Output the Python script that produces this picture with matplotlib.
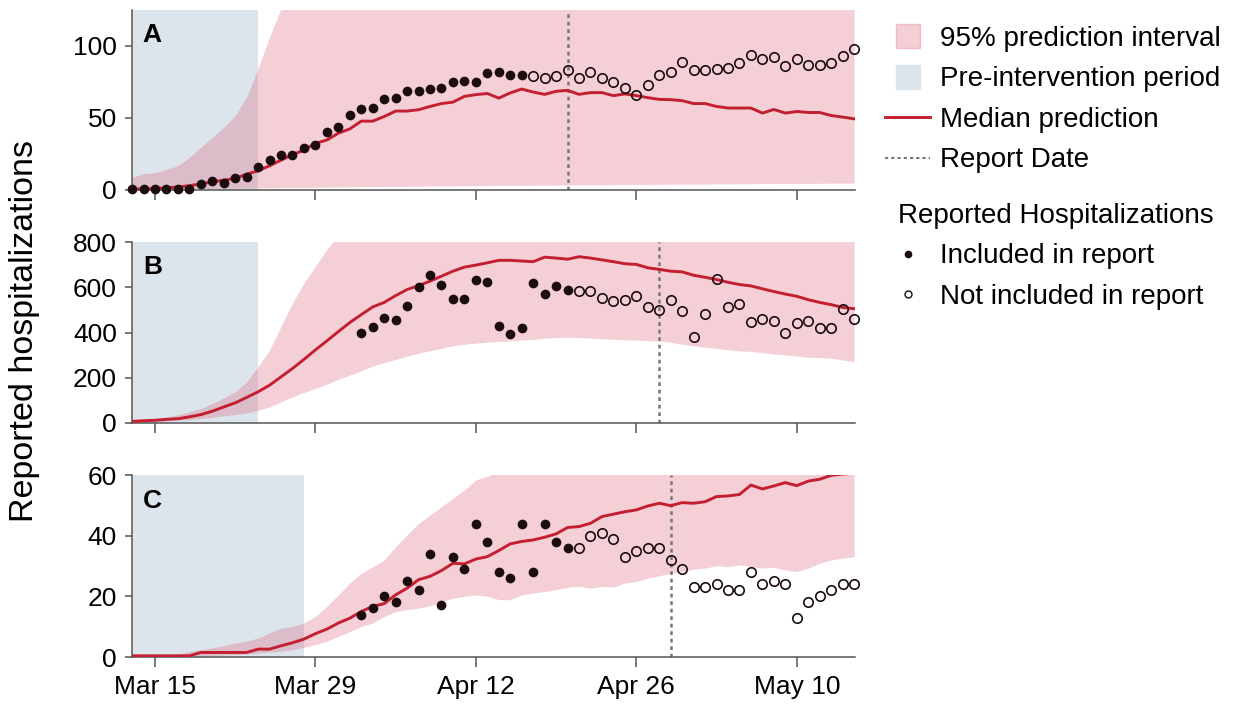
import numpy as np
import pandas as pd
import matplotlib as mpl
mpl.use('Agg')
import matplotlib.pyplot as plt
import matplotlib.dates as mdates
from matplotlib.lines import Line2D

plt.rcParams['font.family'] = ['Liberation Sans', 'DejaVu Sans']

# daily axis, Mar 13 - May 15 2020
days = pd.date_range('2020-03-13', '2020-05-15', freq='D')
incl_days = pd.date_range('2020-04-02', '2020-04-20', freq='D')
excl_days = pd.date_range('2020-04-21', '2020-05-15', freq='D')

# ---- panel A ----
a_incl_days = pd.date_range('2020-03-13', '2020-04-16', freq='D')
a_excl_days = pd.date_range('2020-04-17', '2020-05-15', freq='D')
a_incl = [1, 1, 1, 1, 1, 1, 4, 6, 5, 8, 9, 16, 21, 24, 24, 29, 31, 40, 44,
          52, 56, 57, 63, 64, 69, 69, 70, 71, 75, 76, 75, 81, 82, 80, 80]
a_excl = [79, 78, 79, 83, 78, 82, 78, 75, 71, 66, 73, 80, 82, 89, 83, 83, 84, 85,
          88, 94, 91, 92, 86, 91, 87, 87, 88, 93, 98]
a_median = [0.5, 0.8, 1, 1.5, 2, 3, 4.2, 5.6, 6.8, 8, 11, 13.3, 16.8, 20.7, 24.5, 27.7, 32.4, 34.7, 39.4,
            42.4, 47.8, 47.8, 51, 54.8, 54.8, 55.7, 58, 60, 61, 65, 66.2, 67, 63.8, 67.4, 70.1,
            68, 66.4, 68.5, 69.2, 66.4, 67.6, 67.6, 65.5, 66.7, 65.5, 64.1, 62.9, 62.7, 62,
            60, 60, 58, 56.9, 56.9, 56.9, 53.4, 55.9, 53.4, 54.5, 53.8, 53.8, 51.7, 50.6, 49.4]
a_lower = [0.3, 0.4, 0.5, 0.6, 0.7, 0.8, 0.9, 1.0, 1.1, 1.2, 1.3, 1.4, 1.5, 1.6, 1.7, 1.8, 1.9, 2.0, 2.1,
           2.2, 2.3, 2.4, 2.4, 2.5, 2.6, 2.6, 2.7, 2.8, 2.8, 2.9, 3.0, 3.0, 3.1, 3.1, 3.2,
           3.3, 3.3, 3.4, 3.5, 3.5, 3.6, 3.6, 3.7, 3.8, 3.8, 3.9, 3.9, 4.0, 4.0,
           4.1, 4.1, 4.2, 4.2, 4.3, 4.3, 4.4, 4.4, 4.5, 4.5, 4.6, 4.6, 4.7, 4.7, 4.8]
a_upper = [8.6, 11.4, 12, 14.5, 16.8, 22.6, 29.6, 36.6, 43.6, 51.7, 64.5, 84.4, 106.5, 126, 145, 165, 180, 195, 210,
           220, 228, 235, 240, 245, 250, 254, 258, 260, 262, 264, 265, 266, 267, 268, 268,
           268, 268, 268, 268, 267, 267, 266, 266, 265, 265, 264, 264, 263, 263,
           262, 262, 261, 261, 260, 260, 259, 259, 258, 258, 257, 257, 256, 256, 255]
a_pre_end = '2020-03-24'
a_report = '2020-04-20'

# ---- panel B ----
b_incl = [397, 425, 464, 455, 516, 600, 653, 610, 548, 548, 630, 624, 430, 393, 421, 621, 569, 607, 588]
b_excl = [582, 582, 554, 539, 544, 560, 514, 498, 545, 496, 382, 481, 636, 514, 524, 446, 459, 453,
          400, 444, 450, 422, 422, 504, 459]
b_median = [7, 10, 12, 16, 19, 27, 37, 52, 71, 89, 113, 138, 167, 204, 241, 281, 323, 363, 404,
            444, 479, 513, 533, 563, 590, 607, 627, 649, 671, 689, 698, 708, 719, 719, 716, 713, 733,
            729, 724, 735, 729, 721, 713, 704, 701, 686, 679, 671, 668,
            653, 644, 634, 622, 612, 606, 593, 581, 570, 560, 545, 533, 523, 511, 505]
b_lower = [4, 5, 7, 9, 12, 15, 19, 25, 31, 37, 44, 56, 71, 93, 116, 135, 153, 172, 193,
           212, 231, 252, 267, 281, 296, 308, 320, 330, 342, 348, 353, 357, 360, 363, 367, 370, 375,
           378, 379, 378, 375, 372, 370, 367, 367, 364, 363, 357, 348,
           341, 335, 330, 323, 319, 316, 311, 305, 301, 296, 290, 289, 286, 279, 271]
b_upper = [12, 16, 19, 27, 37, 49, 64, 86, 111, 138, 182, 249, 323, 427, 530, 619, 693, 767, 830,
           880, 920, 950, 975, 995, 1010, 1020, 1030, 1035, 1040, 1040, 1040, 1040, 1038, 1036, 1034, 1030, 1028,
           1025, 1022, 1020, 1015, 1010, 1005, 1000, 995, 990, 985, 980, 975,
           970, 965, 960, 955, 950, 945, 940, 935, 930, 925, 920, 915, 910, 905, 900]
b_pre_end = '2020-03-24'
b_report = '2020-04-28'

# ---- panel C ----
c_incl = [14, 16, 20, 18, 25, 22, 34, 17, 33, 29, 44, 38, 28, 26, 44, 28, 44, 38, 36]
c_excl = [36, 40, 41, 39, 33, 35, 36, 36, 32, 29, 23, 23, 24, 22, 22, 28, 24, 25, 24,
          13, 18, 20, 22, 24, 24]
c_median = [0.4, 0.4, 0.4, 0.4, 0.4, 0.4, 1.5, 1.5, 1.5, 1.5, 1.5, 2.6, 2.6, 3.7, 4.7, 5.9, 7.7, 9.2, 11.2,
            12.8, 15, 16.7, 17.6, 20.5, 22.7, 25.5, 26.6, 28.5, 30.9, 30.7, 32.3, 33.1, 35.1, 37.3, 38.1,
            38.6, 39.5, 40.6, 42.7, 43, 44.1, 46.3, 47.1, 47.9, 48.5, 49.8, 50.7, 49.9, 50.9,
            50.7, 51.2, 52.9, 53.1, 53.6, 56.7, 55.4, 56.4, 57.5, 56.5, 58, 58.6, 59.9, 60.3, 60.6]
c_lower = [0.2, 0.2, 0.2, 0.2, 0.2, 0.2, 0.3, 0.5, 0.7, 0.8, 1.0, 1.3, 1.6, 1.9, 2.4, 3.2, 4.1, 5.2, 6.8,
           8.4, 10.1, 11.2, 13.4, 15, 15.6, 16.1, 16.9, 18.3, 19.4, 20, 20.5, 20, 18.9, 18.9, 20.5,
           21.1, 21.6, 22.2, 23, 23.3, 22.7, 23.3, 23, 24.4, 24.9, 26, 26.8, 27.6, 28.2,
           29, 29.3, 30.1, 29.8, 30.4, 29.8, 29.3, 29.6, 28.7, 28.2, 29.3, 30.9, 32, 32.6, 33.1]
c_upper = [0.4, 0.4, 0.4, 0.4, 0.8, 1.9, 2.4, 3, 3.7, 4.6, 5.2, 6.3, 7.9, 9.5, 10.1, 11.2, 13.4, 16.7, 20.5,
           24.4, 27.6, 29.8, 32, 36.4, 40.3, 44.1, 46.8, 49.6, 52.3, 55.1, 58.4, 59.6, 61, 63, 64,
           65, 66, 67, 68, 69, 70, 70, 71, 71, 72, 72, 73, 73, 74,
           74, 75, 75, 76, 76, 77, 77, 78, 78, 79, 79, 80, 80, 81, 81]
c_pre_end = '2020-03-28'
c_report = '2020-04-29'

panels = [
    ('A', a_incl_days, a_incl, a_excl_days, a_excl, a_median, a_lower, a_upper,
     a_pre_end, a_report, (0, 125), [0, 50, 100]),
    ('B', incl_days, b_incl, excl_days, b_excl, b_median, b_lower, b_upper,
     b_pre_end, b_report, (0, 800), [0, 200, 400, 600, 800]),
    ('C', incl_days, c_incl, excl_days, c_excl, c_median, c_lower, c_upper,
     c_pre_end, c_report, (0, 60), [0, 20, 40, 60]),
]

pink = '#d8506a'
pink_alpha = 0.27
blue = '#dde5ec'
red = '#c41f30'
dot = '#1c0d0f'
spine_col = '#555555'
report_col = '#777777'

fig = plt.figure(figsize=(12.41, 7.07), dpi=100)
boxes = [(0.1064, 0.7313, 0.5826, 0.2546),
         (0.1064, 0.4017, 0.5826, 0.2560),
         (0.1064, 0.0707, 0.5826, 0.2574)]

xticks = pd.to_datetime(['2020-03-15', '2020-03-29', '2020-04-12', '2020-04-26', '2020-05-10'])

for i, (letter, di, vi, de, ve, med, lo, up, pre_end, rep, ylim, yt) in enumerate(panels):
    ax = fig.add_axes(boxes[i])
    ax.axvspan(pd.Timestamp('2020-03-10'), pd.Timestamp(pre_end), color=blue, lw=0, zorder=0)
    ax.fill_between(days, lo, up, color=pink, alpha=pink_alpha, lw=0, zorder=1)
    ax.plot(days, med, color=red, lw=2.1, zorder=3)
    ax.axvline(pd.Timestamp(rep), color=report_col, lw=1.8, ls=(0, (1.5, 1.5)), zorder=2)
    ax.plot(di, vi, 'o', color=dot, ms=7, mec='none', zorder=4, clip_on=False)
    ax.plot(de, ve, 'o', mfc='none', mec=dot, ms=6.8, mew=1.2, zorder=4, clip_on=False)

    ax.set_xlim(pd.Timestamp('2020-03-13'), pd.Timestamp('2020-05-15 02:00'))
    ax.set_ylim(*ylim)
    ax.set_yticks(yt)
    ax.set_xticks(xticks)
    if i == 2:
        ax.xaxis.set_major_formatter(mdates.DateFormatter('%b %d'))
    else:
        ax.set_xticklabels([])
    for s in ['top', 'right']:
        ax.spines[s].set_visible(False)
    for s in ['left', 'bottom']:
        ax.spines[s].set_color(spine_col)
        ax.spines[s].set_linewidth(1.1)
    ax.tick_params(axis='both', colors=spine_col, labelcolor='black', labelsize=19, width=1.1)
    ax.tick_params(axis='x', length=7, pad=6)
    ax.tick_params(axis='y', length=5, pad=6)
    ax.text(0.028, 0.86, letter, transform=ax.transAxes, ha='center', va='center',
            fontsize=19, fontweight='bold', zorder=5)

fig.text(0.02, 0.532, 'Reported hospitalizations', rotation=90, ha='center', va='center', fontsize=24.5)

h1 = [Line2D([], [], marker='s', ms=17, ls='none', color=pink, alpha=pink_alpha),
      Line2D([], [], marker='s', ms=17, ls='none', color=blue),
      Line2D([], [], color=red, lw=2.1),
      Line2D([], [], color=report_col, lw=1.5, ls=(0, (1.5, 1.5)))]
l1 = ['95% prediction interval', 'Pre-intervention period', 'Median prediction', 'Report Date']
leg1 = fig.legend(h1, l1, loc='upper left', bbox_to_anchor=(885 / 1241, 1 - 26 / 707),
                  frameon=False, fontsize=20, handlelength=1.62, handletextpad=0.36,
                  labelspacing=0.52, borderpad=0, borderaxespad=0)

h2 = [Line2D([], [], marker='o', ms=4.5, ls='none', color=dot),
      Line2D([], [], marker='o', ms=5, ls='none', mfc='none', mec=dot, mew=1)]
l2 = ['Included in report', 'Not included in report']
leg2 = fig.legend(h2, l2, loc='upper left', bbox_to_anchor=(898 / 1241, 1 - 203 / 707),
                  frameon=False, fontsize=20, title='Reported Hospitalizations',
                  title_fontsize=20, alignment='left', handlelength=0.72, handletextpad=0.8,
                  labelspacing=0.52, borderpad=0, borderaxespad=0)

fig.savefig('out.png', dpi=100)
